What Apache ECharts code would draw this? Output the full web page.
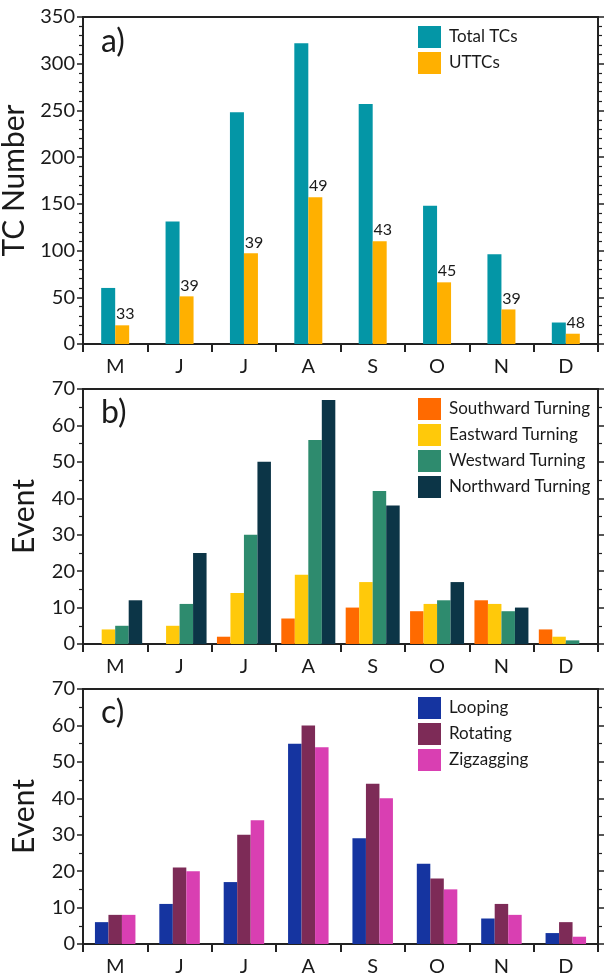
<!DOCTYPE html>
<html>
<head>
<meta charset="utf-8">
<script src="https://cdn.jsdelivr.net/npm/echarts@6/dist/echarts.min.js"></script>
<style>
html,body{margin:0;padding:0;background:#fff;}
#chart{width:606px;height:976px;}
</style>
</head>
<body>
<div id="chart"></div>
<script>
// ---- data ----
const months = ['M','J','J','A','S','O','N','D'];
const totalTCs = [60,131,248,322,257,148,96,23];
const uttcs = [20,51,97,157,110,66,37,11];
const uttcPercent = [33,39,39,49,43,45,39,48];

const southward = [0,0,2,7,10,9,12,4];
const eastward  = [4,5,14,19,17,11,11,2];
const westward  = [5,11,30,56,42,12,9,1];
const northward = [12,25,50,67,38,17,10,0];

const looping    = [6,11,17,55,29,22,7,3];
const rotating   = [8,21,30,60,44,18,11,6];
const zigzagging = [8,20,34,54,40,15,8,2];

const ticksA = {min:0,max:350,interval:50};
const ticksBC = {min:0,max:70,interval:10};

// ---- style ----
const FONT = 'Lato';
const TXT = '#1a1a1a';
const LINE = '#222';
const grids = [
  {left:83,right:8,top:17,height:327},
  {left:83,right:8,top:389,height:255},
  {left:83,right:8,top:689,height:255}
];

function xAxis(i){
  return {type:'category',gridIndex:i,data:months,boundaryGap:true,
    axisLine:{lineStyle:{color:LINE,width:2}},
    axisTick:{show:true,length:8,lineStyle:{color:LINE,width:2}},
    axisLabel:{color:TXT,fontFamily:FONT,fontSize:20,margin:13}};
}
function yLeft(i,t,name,gap,minorSplit){
  return {type:'value',gridIndex:i,min:t.min,max:t.max,interval:t.interval,
    name:name,nameLocation:'middle',nameGap:gap,
    nameTextStyle:{color:TXT,fontFamily:FONT,fontSize:30},
    axisLine:{show:true,lineStyle:{color:LINE,width:2}},
    axisTick:{show:true,length:6,lineStyle:{color:LINE,width:1.5}},
    minorTick:{show:true,splitNumber:minorSplit,length:4,lineStyle:{color:LINE,width:1.2}},
    splitLine:{show:false},
    axisLabel:{color:TXT,fontFamily:FONT,fontSize:20,margin:8}};
}
function yRight(i,t,minorSplit){
  return {type:'value',gridIndex:i,position:'right',min:t.min,max:t.max,interval:t.interval,
    axisLine:{show:true,lineStyle:{color:LINE,width:2}},
    axisTick:{show:true,length:6,lineStyle:{color:LINE,width:1.5}},
    minorTick:{show:true,splitNumber:minorSplit,length:4,lineStyle:{color:LINE,width:1.2}},
    splitLine:{show:false},axisLabel:{show:false}};
}
function bar(name,data,color,xi,yi,w,extra){
  return Object.assign({type:'bar',name:name,data:data,xAxisIndex:xi,yAxisIndex:yi,
    barWidth:w,barGap:'0%',itemStyle:{color:color},emphasis:{disabled:true}},extra||{});
}
function legend(names,top){
  return {orient:'vertical',left:418,top:top,padding:0,itemWidth:23,itemHeight:22,itemGap:4,
    data:names,icon:'rect',
    textStyle:{color:TXT,fontFamily:FONT,fontSize:17,padding:[0,0,0,3]}};
}

const option = {
  animation:false,
  backgroundColor:'#fff',
  grid: grids.map(g=>Object.assign({show:true,borderColor:LINE,borderWidth:2,
    containLabel:false,outerBoundsMode:'none'},g)),
  xAxis:[xAxis(0),xAxis(1),xAxis(2)],
  yAxis:[yLeft(0,ticksA,'TC Number',48,5),yLeft(1,ticksBC,'Event',44,2),yLeft(2,ticksBC,'Event',44,2),
         yRight(0,ticksA,5),yRight(1,ticksBC,2),yRight(2,ticksBC,2)],
  legend:[legend(['Total TCs','UTTCs'],26),
          legend(['Southward Turning','Eastward Turning','Westward Turning','Northward Turning'],398),
          legend(['Looping','Rotating','Zigzagging'],697)],
  series:[
    bar('Total TCs',totalTCs,'#0496A6',0,0,14),
    bar('UTTCs',uttcs,'#FFB000',0,0,14,{label:{show:true,position:'top',distance:3,
      color:TXT,fontFamily:FONT,fontSize:16,offset:[3,0],
      formatter:p=>String(uttcPercent[p.dataIndex])}}),
    bar('Southward Turning',southward,'#FF6A00',1,1,13.5),
    bar('Eastward Turning',eastward,'#FFC90A',1,1,13.5),
    bar('Westward Turning',westward,'#2E8B6E',1,1,13.5),
    bar('Northward Turning',northward,'#0C3547',1,1,13.5),
    bar('Looping',looping,'#1534A0',2,2,13.5),
    bar('Rotating',rotating,'#7D2B57',2,2,13.5),
    bar('Zigzagging',zigzagging,'#D93FB2',2,2,13.5)
  ],
  graphic:[
    {type:'text',left:101,top:26,style:{text:'a)',fill:TXT,font:'32px Lato'}},
    {type:'text',left:101,top:397,style:{text:'b)',fill:TXT,font:'32px Lato'}},
    {type:'text',left:101,top:697,style:{text:'c)',fill:TXT,font:'32px Lato'}}
  ]
};
const chart = echarts.init(document.getElementById('chart'),null,{renderer:'canvas'});
chart.setOption(option);
</script>
</body>
</html>
